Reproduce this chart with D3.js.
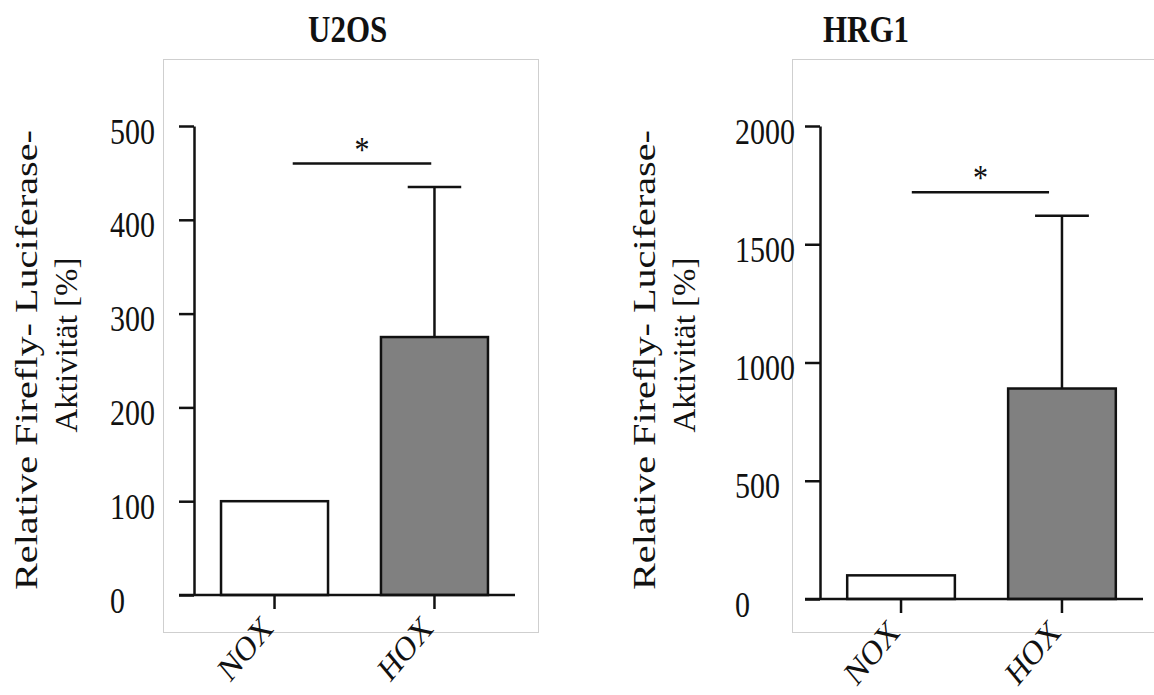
<!DOCTYPE html>
<html>
<head>
<meta charset="utf-8">
<script src="https://cdn.jsdelivr.net/npm/d3@7"></script>
<style>
  html, body { margin: 0; padding: 0; background: #ffffff; }
  svg { display: block; }
  text { font-family: "Liberation Serif", "Times New Roman", serif; fill: #111; }
</style>
</head>
<body>
<svg id="chart" width="1154" height="695"></svg>
<script>
// Luciferase reporter activity, normoxia (NOX) vs hypoxia (HOX)
const categories = ["NOX", "HOX"];
const barFills = ["#ffffff", "#808080"];

const u2osMeans = [100, 275];
const u2osErrors = [0, 160];
const u2osTicks = [0, 100, 200, 300, 400, 500];
const u2osSignificance = 460;

const hrg1Means = [100, 890];
const hrg1Errors = [0, 730];
const hrg1Ticks = [0, 500, 1000, 1500, 2000];
const hrg1Significance = 1720;

const yLabelLines = ["Relative Firefly- Luciferase-", "Aktivität [%]"];

// text in the figure is drawn with a slight vertical stretch
const stretch = 1.2;
const ink = "#111";
const lineW = 2.5;

const panels = [
  {
    title: "U2OS", means: u2osMeans, errors: u2osErrors, ticks: u2osTicks,
    max: 500, sig: u2osSignificance, sigOffsets: [0.17, -0.03],
    frame: [163, 59, 538, 632], xRange: [194, 515], yRange: [595, 126],
    tickLabelX: 110, yLabelX: [37, 77], titleX: 308
  },
  {
    title: "HRG1", means: hrg1Means, errors: hrg1Errors, ticks: hrg1Ticks,
    max: 2000, sig: hrg1Significance, sigOffsets: [0.10, -0.12],
    frame: [792, 59, 1170, 632], xRange: [820, 1143], yRange: [599, 126],
    tickLabelX: 735, yLabelX: [655, 695], titleX: 823
  }
];

// axis title lines: centre (page y) and drawn length along the line
const yLabelCentres = [360, 345];
const yLabelLengths = [460, 175];

const svg = d3.select("#chart");

panels.forEach(p => {
  const g = svg.append("g");
  const x = d3.scaleBand().domain(categories).range(p.xRange)
    .paddingInner(0.331).paddingOuter(0.169);
  const y = d3.scaleLinear().domain([0, p.max]).range(p.yRange);
  const axisX = p.xRange[0];
  const tickLen = 15;

  // light frame around the plot area
  g.append("rect")
    .attr("x", p.frame[0] + 0.5).attr("y", p.frame[1] + 0.5)
    .attr("width", p.frame[2] - p.frame[0]).attr("height", p.frame[3] - p.frame[1])
    .attr("fill", "none").attr("stroke", "#cfcfcf").attr("stroke-width", 1);

  // title
  g.append("text")
    .attr("transform", `translate(${p.titleX},42) scale(1,${stretch})`)
    .attr("font-size", 31).attr("font-weight", "bold")
    .text(p.title);

  // bars
  const data = categories.map((c, i) => ({ c, mean: p.means[i], err: p.errors[i], fill: barFills[i] }));
  g.selectAll("rect.bar").data(data).join("rect")
    .attr("class", "bar")
    .attr("x", d => x(d.c))
    .attr("y", d => y(d.mean))
    .attr("width", x.bandwidth())
    .attr("height", d => y(0) - y(d.mean))
    .attr("fill", d => d.fill)
    .attr("stroke", ink).attr("stroke-width", lineW);

  // upper error bars
  const withErr = data.filter(d => d.err > 0);
  const cx = d => x(d.c) + x.bandwidth() / 2;
  g.selectAll("line.err").data(withErr).join("line")
    .attr("class", "err")
    .attr("x1", cx).attr("x2", cx)
    .attr("y1", d => y(d.mean)).attr("y2", d => y(d.mean + d.err))
    .attr("stroke", ink).attr("stroke-width", lineW);
  g.selectAll("line.cap").data(withErr).join("line")
    .attr("class", "cap")
    .attr("x1", d => cx(d) - x.bandwidth() / 4).attr("x2", d => cx(d) + x.bandwidth() / 4)
    .attr("y1", d => y(d.mean + d.err)).attr("y2", d => y(d.mean + d.err))
    .attr("stroke", ink).attr("stroke-width", lineW);

  // y axis
  const yAxis = g.append("g")
    .attr("transform", `translate(${axisX},0)`)
    .call(d3.axisLeft(y).tickValues(p.ticks).tickSize(tickLen).tickSizeOuter(0).tickFormat(d3.format("d")));
  yAxis.select(".domain").attr("stroke", ink).attr("stroke-width", lineW);
  yAxis.selectAll(".tick line").attr("stroke", ink).attr("stroke-width", lineW);
  yAxis.selectAll(".tick text")
    .attr("x", null).attr("dy", null)
    .attr("text-anchor", "start")
    .attr("font-family", "Liberation Serif, serif")
    .attr("font-size", 30).attr("fill", ink)
    .attr("transform", `translate(${p.tickLabelX - axisX},17) scale(1,${stretch})`);

  // x axis
  const xAxis = g.append("g")
    .attr("transform", `translate(0,${y(0)})`)
    .call(d3.axisBottom(x).tickSize(14).tickSizeOuter(0).tickFormat(""));
  xAxis.select(".domain").remove();
  xAxis.selectAll(".tick line").attr("stroke", ink).attr("stroke-width", lineW);
  xAxis.append("line")
    .attr("x1", axisX - tickLen).attr("x2", p.xRange[1])
    .attr("y1", 0).attr("y2", 0)
    .attr("stroke", ink).attr("stroke-width", lineW);

  // rotated category labels
  g.selectAll("text.cat").data(categories).join("text")
    .attr("class", "cat")
    .attr("text-anchor", "end")
    .attr("font-size", 29)
    .attr("transform", c => `translate(${x(c) + x.bandwidth() / 2},${y(0) + 35}) scale(1,${stretch}) rotate(-45)`)
    .text(c => c);

  // y axis title (two lines)
  yLabelLines.forEach((line, i) => {
    g.append("text")
      .attr("text-anchor", "middle")
      .attr("font-size", 32)
      .attr("textLength", yLabelLengths[i] / stretch)
      .attr("lengthAdjust", "spacingAndGlyphs")
      .attr("transform", `translate(${p.yLabelX[i]},${yLabelCentres[i]}) scale(1,${stretch}) rotate(-90)`)
      .text(line);
  });

  // significance bracket
  const sx1 = x("NOX") + x.bandwidth() / 2 + p.sigOffsets[0] * x.bandwidth();
  const sx2 = x("HOX") + x.bandwidth() / 2 + p.sigOffsets[1] * x.bandwidth();
  g.append("line")
    .attr("x1", sx1).attr("x2", sx2)
    .attr("y1", y(p.sig)).attr("y2", y(p.sig))
    .attr("stroke", ink).attr("stroke-width", lineW);
  g.append("text")
    .attr("text-anchor", "middle")
    .attr("font-size", 30)
    .attr("transform", `translate(${(sx1 + sx2) / 2},${y(p.sig) - 2}) scale(1,${stretch})`)
    .text("*");
});
</script>
</body>
</html>
